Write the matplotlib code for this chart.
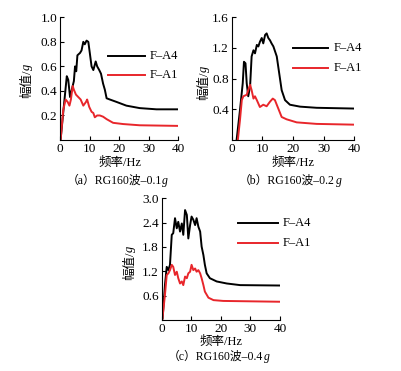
import matplotlib
matplotlib.use("Agg")
import matplotlib.pyplot as plt
from matplotlib.lines import Line2D

plt.rcParams['font.family'] = ['Liberation Serif', 'Noto Sans CJK SC']
plt.rcParams['font.size'] = 9

# panel (a) RG160 -0.1g
fa_a4 = [0.2, 1.2, 2.3, 2.8, 3.4, 3.9, 4.7, 5.1, 5.5, 5.9, 6.8, 7.3, 7.9, 8.4, 9.0, 9.6, 10.1, 10.7,
         11.3, 12.1, 12.6, 13.3, 13.9, 14.6, 15.2, 15.8, 16.9, 19.2, 22.5, 27.0, 32.7, 40.0]
va_a4 = [0.0, 0.25, 0.52, 0.49, 0.35, 0.40, 0.48, 0.60, 0.56, 0.69, 0.71, 0.73, 0.80, 0.78, 0.81, 0.80,
         0.71, 0.60, 0.57, 0.64, 0.60, 0.57, 0.54, 0.46, 0.41, 0.34, 0.33, 0.31, 0.28, 0.26, 0.25, 0.25]
fa_a1 = [0.2, 1.1, 1.9, 2.6, 3.2, 3.7, 4.3, 4.7, 5.4, 6.2, 7.0, 7.9, 8.8, 9.2, 9.9, 10.7, 11.3, 11.8,
         12.6, 13.5, 14.6, 15.8, 18.0, 21.4, 27.0, 40.0]
va_a1 = [0.0, 0.245, 0.33, 0.31, 0.28, 0.33, 0.44, 0.41, 0.37, 0.35, 0.33, 0.28, 0.31, 0.33, 0.27, 0.23,
         0.22, 0.185, 0.20, 0.20, 0.19, 0.17, 0.14, 0.13, 0.12, 0.115]

# panel (b) RG160 -0.2g
fb_a4 = [1.6, 2.7, 3.6, 4.0, 4.5, 4.9, 5.4, 6.0, 6.5, 7.1, 7.6, 8.2, 8.7, 9.2, 9.8, 10.3, 10.9, 11.4,
         11.95, 12.5, 13.0, 13.6, 14.7, 15.5, 16.3, 17.4, 19.0, 22.3, 27.7, 40.0]
vb_a4 = [0.0, 0.39, 0.74, 1.02, 1.00, 0.74, 0.57, 0.70, 1.09, 1.17, 1.13, 1.24, 1.22, 1.28, 1.33, 1.26,
         1.37, 1.39, 1.33, 1.30, 1.26, 1.22, 1.09, 0.87, 0.65, 0.52, 0.46, 0.435, 0.42, 0.41]
fb_a1 = [2.0, 2.7, 3.3, 3.8, 4.9, 5.4, 6.0, 6.5, 7.1, 7.6, 8.2, 9.2, 10.3, 11.4, 12.5, 13.4, 14.1, 15.2,
         16.3, 17.9, 21.2, 27.7, 40.0]
vb_a1 = [0.0, 0.26, 0.52, 0.57, 0.59, 0.65, 0.72, 0.65, 0.54, 0.57, 0.52, 0.43, 0.46, 0.44, 0.50, 0.54,
         0.52, 0.41, 0.30, 0.27, 0.23, 0.21, 0.20]

# panel (c) RG160 -0.4g
fc_a4 = [0.3, 1.1, 1.7, 2.25, 2.8, 3.4, 3.9, 4.5, 5.1, 5.6, 6.2, 6.8, 7.3, 7.9, 8.5, 9.0, 9.6, 10.1,
         10.7, 11.3, 11.8, 12.4, 13.0, 13.5, 14.1, 14.6, 15.2, 16.3, 18.6, 22.0, 26.5, 40.0]
vc_a4 = [0.04, 0.86, 1.31, 1.23, 1.36, 2.10, 2.14, 2.51, 2.26, 2.42, 2.18, 2.38, 2.10, 2.71, 2.59, 2.01,
         2.34, 2.55, 2.47, 2.34, 2.51, 2.30, 2.18, 1.81, 1.60, 1.36, 1.15, 1.03, 0.95, 0.90, 0.86, 0.85]
fc_a1 = [0.2, 1.1, 1.7, 2.25, 2.8, 3.4, 3.9, 4.5, 5.1, 5.6, 6.2, 6.8, 7.3, 7.9, 8.5, 9.0, 9.6, 10.1,
         10.7, 11.3, 11.8, 12.4, 13.0, 13.5, 14.1, 14.6, 15.8, 17.5, 20.8, 40.0]
vc_a1 = [0.0, 0.62, 1.11, 1.15, 1.23, 1.36, 1.31, 1.11, 1.19, 1.03, 0.90, 0.95, 0.86, 1.07, 1.03, 1.15,
         1.19, 1.36, 1.23, 1.27, 1.19, 1.23, 1.15, 1.03, 0.86, 0.70, 0.55, 0.49, 0.47, 0.45]

x_ticks = [0, 10, 20, 30, 40]
ya_ticks = [0.2, 0.4, 0.6, 0.8, 1.0]
yb_ticks = [0.4, 0.8, 1.2, 1.6]
yc_ticks = [0.6, 1.2, 1.8, 2.4, 3.0]
series_names = ['F–A4', 'F–A1']
captions = ['（a）RG160波–0.1', '（b）RG160波–0.2', '（c）RG160波–0.4']

RED = '#e8262b'
W, H = 401, 371
FS = 9

fig = plt.figure(figsize=(W / 100, H / 100), dpi=100)


def px(x, y):
    return x / W, 1 - y / H


def make_panel(box, f4, v4, f1, v1, yticks, caption, legend_pos, label_pos):
    left, top, right, bottom = box
    ax = fig.add_axes([left / W, 1 - bottom / H, (right - left) / W, (bottom - top) / H])
    ax.plot(f4, v4, color='black', lw=1.4)
    ax.plot(f1, v1, color=RED, lw=1.4)
    ax.set_xlim(0, 40)
    ax.set_ylim(0, yticks[-1])
    ax.set_xticks(x_ticks)
    ax.set_yticks(yticks)
    ax.set_yticklabels([f'{t:.1f}' for t in yticks])
    for s in ['top', 'right']:
        ax.spines[s].set_visible(False)
    ax.tick_params(direction='in', length=3, width=0.8, labelsize=9.5, pad=2)

    # legend drawn by hand
    lx0, lx1, ly0, ly1 = legend_pos
    for name, col, ly in zip(series_names, ['black', RED], [ly0, ly1]):
        fig.add_artist(Line2D([lx0 / W, lx1 / W], [1 - ly / H] * 2, color=col, lw=1.4))
        fig.text(*px(lx1 + 5, ly), name, fontsize=FS, va='center', ha='left')

    cx, xl_y, cap_y, yl_x, yl_y = label_pos
    fig.text(*px(cx, xl_y), '频率/Hz', fontsize=FS, ha='center', va='center')
    fig.text(*px(yl_x, yl_y), '幅值/', fontsize=FS, rotation=90, ha='center', va='top')
    fig.text(*px(yl_x, yl_y), 'g', fontsize=FS, rotation=90, ha='center', va='bottom', style='italic')
    fig.text(*px(cx + 42, cap_y), caption, fontsize=8.5, ha='right', va='center')
    fig.text(*px(cx + 42.5, cap_y), 'g', fontsize=8.5, ha='left', va='center', style='italic')
    return ax


make_panel((60, 17.3, 178, 140), fa_a4, va_a4, fa_a1, va_a1, ya_ticks, captions[0],
           (108, 145, 56, 75), (120, 163, 181, 27, 70))
make_panel((231.7, 17.3, 354.3, 140), fb_a4, vb_a4, fb_a1, vb_a1, yb_ticks, captions[1],
           (292.7, 328.3, 48, 68), (293, 163, 181, 204, 72))
make_panel((161.7, 198.3, 280, 320), fc_a4, vc_a4, fc_a1, vc_a1, yc_ticks, captions[2],
           (238.3, 278, 223, 243), (221, 342, 357, 130, 252))

fig.savefig('out.png', dpi=100)
